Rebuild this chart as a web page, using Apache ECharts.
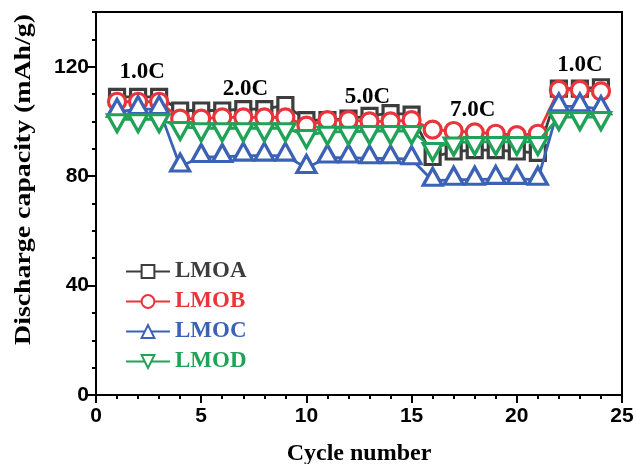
<!DOCTYPE html>
<html><head><meta charset="utf-8">
<script src="https://cdn.jsdelivr.net/npm/echarts@6/dist/echarts.min.js"></script>
<style>html,body{margin:0;padding:0;background:#fff}#c{width:636px;height:464px}</style>
</head><body><div id="c"></div>
<script>
const cycles = [1,2,3,4,5,6,7,8,9,10,11,12,13,14,15,16,17,18,19,20,21,22,23,24];
const LMOA = [109,109,109,104,104,104,104.5,104.5,106,100.5,100.5,101,102,103,102.5,87,89,89.5,89.5,89,88.5,112,112,112.5];
const LMOB = [107.2,107.2,107.2,101,101,101.5,101.5,101.5,101.5,98.5,100.5,100.5,100,100,100.5,97,96.5,96,95.5,95,95.5,111.5,111.5,111];
const LMOC = [103.5,104.5,104.5,83.5,87,87,87.5,87.5,87.5,83,86.8,86.8,86.5,86.5,86.2,78.3,78.7,78.7,79,79,78.7,105.5,105.5,104.5];
const LMOD = [100.8,100.8,100.8,98,97.5,97.5,97.5,97.5,97.5,95,96.2,96.2,96.5,96.5,96.5,90.3,92.3,92.5,92.5,92.5,92.5,101.6,101.6,101.6];
const seriesNames = ['LMOA','LMOB','LMOC','LMOD'];
const rateLabels = ['1.0C','2.0C','5.0C','7.0C','1.0C'];
const rateX = [2.2, 7.1, 12.9, 17.9, 23.0];
const rateY = [118, 112, 109, 104, 120.5];
const yMajor = [0, 40, 80, 120];

const colors = ['#3d3d3d', '#e8343a', '#3b62b5', '#20a257'];
const serif = '"Liberation Serif","Times New Roman",serif';
const sans = '"Liberation Sans",Arial,sans-serif';

function mk(name, vals, i, symbol, size, offset) {
  return {
    name: name, type: 'line', xAxisIndex: 0, yAxisIndex: 0,
    data: cycles.map((c, k) => [c, vals[k]]),
    symbol: symbol, symbolSize: size, symbolOffset: offset || [0, 0],
    showAllSymbol: true,
    lineStyle: { color: colors[i], width: 2.8 },
    itemStyle: { color: '#fff', borderColor: colors[i], borderWidth: 3.2 },
    emphasis: { disabled: true },
    z: 2 + i
  };
}

const chart = echarts.init(document.getElementById('c'), null, { renderer: 'canvas' });
chart.setOption({
  animation: false,
  grid: { left: 96, right: 14, top: 12, bottom: 69, containLabel: false, outerBoundsMode: 'none',
    show: true, borderColor: '#000', borderWidth: 2, backgroundColor: 'transparent' },
  legend: {
    orient: 'vertical', left: 120, top: 255, itemWidth: 44, itemHeight: 16, itemGap: 7,
    textStyle: { fontFamily: serif, fontWeight: 'bold', fontSize: 23 },
    data: seriesNames.map((n, i) => ({ name: n, textStyle: { color: colors[i] } }))
  },
  xAxis: [{
    type: 'value', min: 0, max: 25, interval: 5,
    name: 'Cycle number', nameLocation: 'middle', nameGap: 47,
    nameTextStyle: { fontFamily: serif, fontWeight: 'bold', fontSize: 24, color: '#000' },
    axisLine: { show: true, lineStyle: { color: '#000', width: 2 } },
    axisTick: { show: true, inside: false, length: 8, lineStyle: { color: '#000', width: 2 } },
    minorTick: { show: true, splitNumber: 5, length: 4, lineStyle: { color: '#000', width: 2 } },
    axisLabel: { fontFamily: sans, fontWeight: 'bold', fontSize: 21, color: '#000', margin: 11 },
    splitLine: { show: false }
  }],
  yAxis: [{
    type: 'value', min: 0, max: 140, interval: 10,
    axisLine: { show: true, lineStyle: { color: '#000', width: 2 } },
    axisTick: { show: true, length: 4, lineStyle: { color: '#000', width: 2 } },
    axisLabel: { fontFamily: sans, fontWeight: 'bold', fontSize: 21, color: '#000', margin: 7,
      formatter: v => yMajor.indexOf(v) >= 0 ? String(v) : '' },
    splitLine: { show: false }
  }, {
    type: 'value', min: 0, max: 140, position: 'left',
    axisLine: { show: false },
    axisTick: { show: true, length: 9, customValues: yMajor, lineStyle: { color: '#000', width: 2 } },
    axisLabel: { show: false },
    splitLine: { show: false }
  }],
  series: [
    mk('LMOA', LMOA, 0, 'rect', 15),
    mk('LMOB', LMOB, 1, 'circle', 17),
    mk('LMOC', LMOC, 2, 'triangle', [19, 17], [0, -4]),
    mk('LMOD', LMOD, 3, 'path://M-1,-1L1,-1L0,1Z', [19, 17], [0, 4]),
    {
      type: 'scatter', name: 'rates', symbolSize: 0, silent: true,
      data: rateX.map((x, k) => ({ value: [x, rateY[k]], label: { formatter: rateLabels[k] } })),
      label: { show: true, position: 'inside', fontFamily: serif, fontWeight: 'bold', fontSize: 23,
        color: '#000', textBorderWidth: 0, opacity: 1 },
      itemStyle: { opacity: 1 },
      z: 10
    }
  ],
  graphic: [{
    type: 'text', left: 12, top: 14, rotation: Math.PI / 2, scaleX: 1.16,
    style: { text: 'Discharge capacity (mAh/g)', font: 'bold 24px ' + serif, fill: '#000' }
  }]
});
</script></body></html>
